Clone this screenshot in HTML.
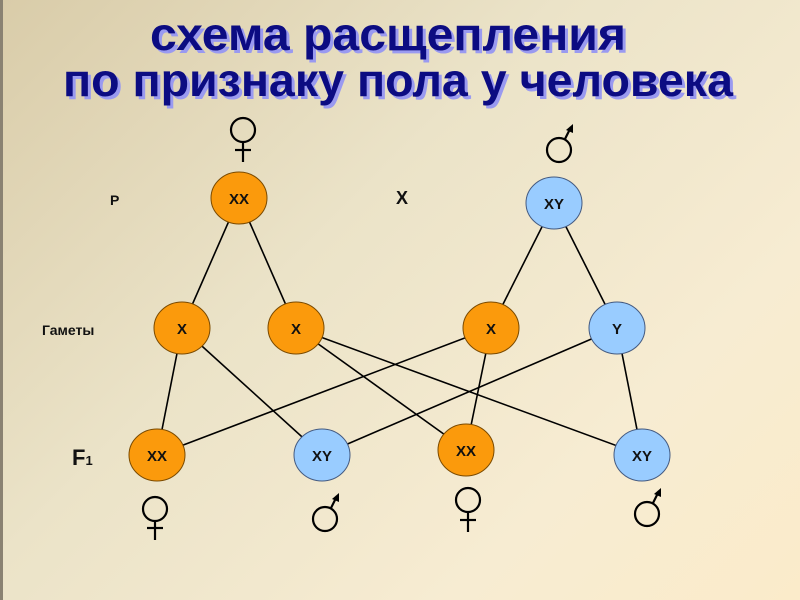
<!DOCTYPE html>
<html><head><meta charset="utf-8"><style>
html,body{margin:0;padding:0;}
body{width:800px;height:600px;overflow:hidden;background:linear-gradient(135deg,#d9cca9 0%,#ebe3c8 40%,#f7ecd2 75%,#fbebca 100%);}
svg{display:block;}
</style></head><body>
<svg width="800" height="600" viewBox="0 0 800 600" xmlns="http://www.w3.org/2000/svg" font-family="Liberation Sans, sans-serif">
<rect x="0" y="0" width="3" height="600" fill="#8a8272"/>
<g font-weight="bold" font-size="46">
<text x="153" y="53" textLength="476" lengthAdjust="spacingAndGlyphs" fill="#9a9af0">схема расщепления</text>
<text x="150" y="50" textLength="476" lengthAdjust="spacingAndGlyphs" fill="#0c0c82">схема расщепления</text>
<text x="66" y="99" textLength="670" lengthAdjust="spacingAndGlyphs" fill="#9a9af0">по признаку пола у человека</text>
<text x="63" y="96" textLength="670" lengthAdjust="spacingAndGlyphs" fill="#0c0c82">по признаку пола у человека</text>
</g>
<g stroke="#000" stroke-width="1.6">
<line x1="239" y1="198" x2="182" y2="328"/><line x1="239" y1="198" x2="296" y2="328"/>
<line x1="554" y1="203" x2="491" y2="328"/><line x1="554" y1="203" x2="617" y2="328"/>
<line x1="182" y1="328" x2="157" y2="455"/><line x1="182" y1="328" x2="322" y2="455"/>
<line x1="296" y1="328" x2="466" y2="450"/><line x1="296" y1="328" x2="642" y2="455"/>
<line x1="491" y1="328" x2="157" y2="455"/><line x1="491" y1="328" x2="466" y2="450"/>
<line x1="617" y1="328" x2="322" y2="455"/><line x1="617" y1="328" x2="642" y2="455"/>
</g>
<g stroke="#7a4a00" stroke-width="1">
<ellipse cx="239" cy="198" rx="28" ry="26" fill="#fb9a0c"/>
<ellipse cx="554" cy="203" rx="28" ry="26" fill="#99ccff" stroke="#445a80"/>
<ellipse cx="182" cy="328" rx="28" ry="26" fill="#fb9a0c"/>
<ellipse cx="296" cy="328" rx="28" ry="26" fill="#fb9a0c"/>
<ellipse cx="491" cy="328" rx="28" ry="26" fill="#fb9a0c"/>
<ellipse cx="617" cy="328" rx="28" ry="26" fill="#99ccff" stroke="#445a80"/>
<ellipse cx="157" cy="455" rx="28" ry="26" fill="#fb9a0c"/>
<ellipse cx="322" cy="455" rx="28" ry="26" fill="#99ccff" stroke="#445a80"/>
<ellipse cx="466" cy="450" rx="28" ry="26" fill="#fb9a0c"/>
<ellipse cx="642" cy="455" rx="28" ry="26" fill="#99ccff" stroke="#445a80"/>
</g>
<g font-weight="bold" font-size="15" text-anchor="middle" fill="#111">
<text x="239" y="204">XX</text><text x="554" y="209">XY</text>
<text x="182" y="334">X</text><text x="296" y="334">X</text><text x="491" y="334">X</text><text x="617" y="334">Y</text>
<text x="157" y="461">XX</text><text x="322" y="461">XY</text><text x="466" y="456">XX</text><text x="642" y="461">XY</text>
</g>
<g font-weight="bold" fill="#111">
<text x="110" y="205" font-size="14">P</text>
<text x="396" y="204" font-size="18">X</text>
<text x="42" y="335" font-size="14">Гаметы</text>
<text x="72" y="465" font-size="22">F<tspan font-size="13">1</tspan></text>
</g>
<g fill="none" stroke="#000" stroke-width="2.2">
<!-- female symbols -->
<circle cx="243" cy="130" r="12"/><line x1="243" y1="142" x2="243" y2="162"/><line x1="235" y1="150" x2="251" y2="150"/>
<circle cx="155" cy="509" r="12"/><line x1="155" y1="521" x2="155" y2="540"/><line x1="147" y1="528" x2="163" y2="528"/>
<circle cx="468" cy="500" r="12"/><line x1="468" y1="512" x2="468" y2="532"/><line x1="460" y1="520" x2="476" y2="520"/>
<!-- male symbols -->
<circle cx="559" cy="150" r="12"/><line x1="565" y1="139" x2="571" y2="127"/>
<circle cx="325" cy="519" r="12"/><line x1="331" y1="508" x2="337" y2="496"/>
<circle cx="647" cy="514" r="12"/><line x1="653" y1="503" x2="659" y2="491"/>
</g>
<g fill="#000">
<polygon points="573,124 566,130 573,133"/>
<polygon points="339,493 332,499 339,502"/>
<polygon points="661,488 654,494 661,497"/>
</g>
</svg>
</body></html>
